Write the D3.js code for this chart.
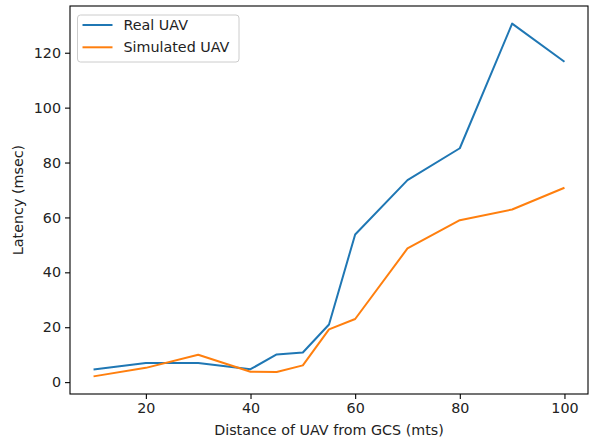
<!DOCTYPE html>
<html>
<head>
<meta charset="utf-8">
<script src="https://cdn.jsdelivr.net/npm/d3@7"></script>
<style>
  body { margin: 0; background: #fff; }
  svg { display: block; font-family: "DejaVu Sans", sans-serif; }
</style>
</head>
<body>
<div id="chart"></div>
<script>
(function () {
  // Data
  const distances = [10, 20, 30, 40, 45, 50, 55, 60, 70, 80, 90, 100];
  const realUav = [4.6, 7.0, 7.0, 4.7, 10.1, 10.8, 21.0, 53.8, 73.6, 85.2, 130.6, 116.7];
  const simulatedUav = [2.1, 5.2, 10.0, 3.8, 3.7, 6.1, 19.2, 23.0, 48.7, 59.0, 62.9, 70.8];
  const seriesNames = ["Real UAV", "Simulated UAV"];
  const xTicks = [20, 40, 60, 80, 100];
  const yTicks = [0, 20, 40, 60, 80, 100, 120];

  // Dimensions
  const width = 590;
  const height = 438;
  const margin = { top: 6, right: 2, bottom: 44, left: 70 };

  // Style
  const colors = ["#1f77b4", "#ff7f0e"];
  const fontSize = 14.3;

  const svg = d3
    .select("#chart")
    .append("svg")
    .attr("width", width)
    .attr("height", height);

  // Scales (matplotlib-like 5% margins)
  const allY = realUav.concat(simulatedUav);
  const xPad = (d3.max(distances) - d3.min(distances)) * 0.05;
  const yPad = (d3.max(allY) - d3.min(allY)) * 0.05;
  const x = d3
    .scaleLinear()
    .domain([d3.min(distances) - xPad, d3.max(distances) + xPad])
    .range([margin.left, width - margin.right]);
  const y = d3
    .scaleLinear()
    .domain([d3.min(allY) - yPad, d3.max(allY) + yPad])
    .range([height - margin.bottom, margin.top]);

  // Axes
  const xAxis = svg
    .append("g")
    .attr("transform", `translate(0,${height - margin.bottom})`)
    .call(d3.axisBottom(x).tickValues(xTicks).tickSize(5).tickPadding(4));
  const yAxis = svg
    .append("g")
    .attr("transform", `translate(${margin.left},0)`)
    .call(d3.axisLeft(y).tickValues(yTicks).tickSize(5).tickPadding(4));
  [xAxis, yAxis].forEach((g) => {
    g.select(".domain").remove();
    g.selectAll("line").attr("stroke", "#000").attr("stroke-width", 1.1);
    g.selectAll("text")
      .attr("fill", "#222")
      .style("font-size", fontSize + "px")
      .style("font-family", "DejaVu Sans, sans-serif");
  });

  // Frame
  svg
    .append("rect")
    .attr("x", margin.left)
    .attr("y", margin.top)
    .attr("width", width - margin.left - margin.right)
    .attr("height", height - margin.top - margin.bottom)
    .attr("fill", "none")
    .attr("stroke", "#000")
    .attr("stroke-width", 1.1);

  // Lines
  const line = d3
    .line()
    .x((d) => x(d[0]))
    .y((d) => y(d[1]));
  [realUav, simulatedUav].forEach((values, i) => {
    svg
      .append("path")
      .datum(d3.zip(distances, values))
      .attr("fill", "none")
      .attr("stroke", colors[i])
      .attr("stroke-width", 2)
      .attr("stroke-linejoin", "round")
      .attr("d", line);
  });

  // Axis labels
  svg
    .append("text")
    .attr("x", (margin.left + width - margin.right) / 2)
    .attr("y", height - 3)
    .attr("text-anchor", "middle")
    .attr("fill", "#222")
    .style("font-size", fontSize + "px")
    .text("Distance of UAV from GCS (mts)");
  svg
    .append("text")
    .attr("transform", `translate(23,${(margin.top + height - margin.bottom) / 2}) rotate(-90)`)
    .attr("text-anchor", "middle")
    .attr("fill", "#222")
    .style("font-size", fontSize + "px")
    .text("Latency (msec)");

  // Legend
  const legend = svg.append("g").attr("transform", `translate(77.5,15)`);
  legend
    .append("rect")
    .attr("width", 161.5)
    .attr("height", 47)
    .attr("rx", 3)
    .attr("fill", "#fff")
    .attr("fill-opacity", 0.8)
    .attr("stroke", "#ccc")
    .attr("stroke-width", 1);
  seriesNames.forEach((name, i) => {
    const row = legend.append("g").attr("transform", `translate(0,${10 + i * 22.3})`);
    row
      .append("line")
      .attr("x1", 5)
      .attr("x2", 35)
      .attr("stroke", colors[i])
      .attr("stroke-width", 2);
    row
      .append("text")
      .attr("x", 46)
      .attr("dy", "0.35em")
      .attr("fill", "#222")
      .style("font-size", fontSize + "px")
      .text(name);
  });
})();
</script>
</body>
</html>
